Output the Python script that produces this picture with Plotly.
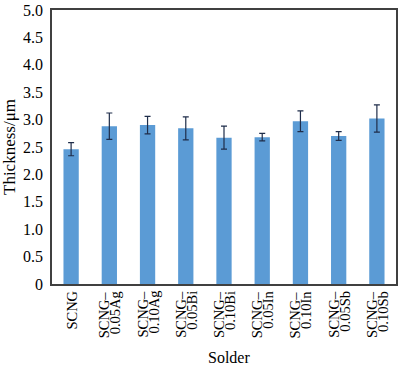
import plotly.graph_objects as go

categories = ["SCNG", "SCNG-0.05Ag", "SCNG-0.10Ag", "SCNG-0.05Bi", "SCNG-0.10Bi",
              "SCNG-0.05In", "SCNG-0.10In", "SCNG-0.05Sb", "SCNG-0.10Sb"]
label_line1 = ["SCNG", "SCNG–", "SCNG–", "SCNG–", "SCNG–", "SCNG–", "SCNG–", "SCNG–", "SCNG–"]
label_line2 = ["", "0.05Ag", "0.10Ag", "0.05Bi", "0.10Bi", "0.05In", "0.10In", "0.05Sb", "0.10Sb"]
thickness = [2.46, 2.88, 2.90, 2.84, 2.67, 2.68, 2.97, 2.70, 3.02]
errors = [0.12, 0.24, 0.16, 0.21, 0.21, 0.07, 0.19, 0.08, 0.25]
y_tickvals = [0, 0.5, 1.0, 1.5, 2.0, 2.5, 3.0, 3.5, 4.0, 4.5, 5.0]
y_ticktext = ["0", "0.5", "1.0", "1.5", "2.0", "2.5", "3.0", "3.5", "4.0", "4.5", "5.0"]

FONT = "Liberation Serif"

fig = go.Figure()
fig.add_trace(go.Bar(
    x=categories, y=thickness, width=0.4,
    marker=dict(color="#5B9BD5", line=dict(width=0)),
    error_y=dict(type="data", array=errors, visible=True,
                 color="#1F2D4A", thickness=1.2, width=3),
))

annotations = []
for cat, l1, l2 in zip(categories, label_line1, label_line2):
    if l2:
        shifts = [(l1, -5.5), (l2, 5.5)]
    else:
        shifts = [(l1, 0)]
    for txt, dx in shifts:
        annotations.append(dict(
            x=cat, xref="x", y=0, yref="paper", text=txt, showarrow=False,
            textangle=-90, xanchor="center", yanchor="top", xshift=dx, yshift=-5,
            font=dict(family=FONT, size=14.5, color="black"),
        ))
annotations.append(dict(x=0.514, xref="paper", y=0, yref="paper", yanchor="middle",
                        yshift=-73, text="Solder", showarrow=False,
                        font=dict(family=FONT, size=16, color="black")))

fig.update_layout(
    width=400, height=367,
    margin=dict(l=52, r=2, t=5, b=83),
    paper_bgcolor="white", plot_bgcolor="white",
    showlegend=False,
    annotations=annotations,
    xaxis=dict(showticklabels=False, ticks="", showgrid=False, zeroline=False,
               showline=True, linecolor="#404040", linewidth=1.5, mirror=True,
               range=[-0.5, 8.5]),
    yaxis=dict(range=[0, 5], tickvals=y_tickvals, ticktext=y_ticktext, ticks="",
               showgrid=False, zeroline=False, showline=True, linecolor="#404040",
               linewidth=1.5, mirror=True, ticklabelstandoff=4,
               ticklabeloverflow="allow",
               tickfont=dict(family=FONT, size=16, color="black"),
               title=dict(text="Thickness/μm", standoff=9,
                          font=dict(family=FONT, size=17, color="black"))),
)

fig.write_html("out.html", config={"displayModeBar": False},
               post_script="document.body.style.margin='0';")
